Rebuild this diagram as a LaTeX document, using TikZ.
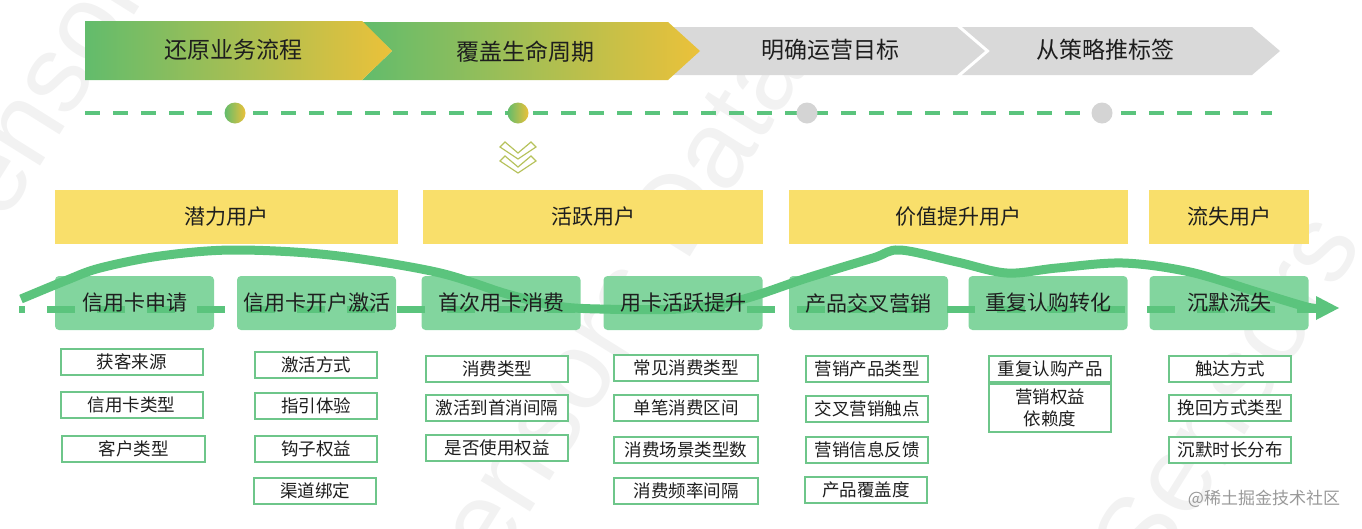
\documentclass[tikz,border=0pt]{standalone}
\usepackage{fontspec}
\setmainfont{Noto Sans CJK SC}
\newfontfamily\wmfont{Liberation Sans}
\usetikzlibrary{calc}

\definecolor{stagegreen}{HTML}{82D59E}
\definecolor{linegreen}{HTML}{5BC47D}
\definecolor{boxyellow}{HTML}{F9DF6B}
\definecolor{arrowgray}{HTML}{D9D9D9}
\definecolor{dotgray}{HTML}{D4D4D4}
\definecolor{gradgreen}{HTML}{62BC6C}
\definecolor{gradyellow}{HTML}{EBC13A}
\definecolor{itemline}{HTML}{6EC68A}
\definecolor{chevcolor}{HTML}{B6C25C}
\definecolor{textdark}{HTML}{1E1E1E}

\tikzset{
  watermark/.style={font=\wmfont\fontsize{110}{110}\selectfont, text=black!5, rotate=58, inner sep=0pt},
  steptext/.style={font=\fontsize{23}{27}\selectfont, text=textdark, inner sep=0pt},
  timeline/.style={draw=linegreen, line width=4pt, dash pattern=on 15pt off 13pt},
  golddot/.style={circle, minimum size=21pt, inner sep=0pt, left color=gradgreen, right color=gradyellow},
  graydot/.style={circle, minimum size=21pt, inner sep=0pt, fill=dotgray},
  chevron/.style={draw=chevcolor, line width=1.2pt, line join=miter},
  usertype/.style={fill=boxyellow, minimum height=54pt, inner sep=0pt, font=\fontsize{21}{25}\selectfont, text=textdark},
  stagebox/.style={fill=stagegreen, rounded corners=4pt, minimum width=159pt, minimum height=54pt, inner sep=0pt},
  stagetext/.style={font=\fontsize{21}{25}\selectfont, text=textdark, inner sep=0pt},
  stageline/.style={draw=linegreen, line width=7pt, dash pattern=on 28pt off 22pt, dash phase=22pt},
  wave/.style={draw=linegreen, line width=9pt},
  itembox/.style={draw=itemline, line width=2pt, fill=white, minimum width=122pt, minimum height=26pt, inner sep=0pt, font=\fontsize{17.5}{22}\selectfont, text=textdark, align=center},
}

\begin{document}
\begin{tikzpicture}[x=1pt, y=-1pt]
  \useasboundingbox (0,0) rectangle (1362,528);

  %%% watermark
  \node[watermark] (wm1) at (40,95) {Sensors};
  \node[watermark] (wm2) at (600,330) {Sensors Data};
  \node[watermark] (wm3) at (1225,395) {Sensors};

  %%% steps on top
  \fill[arrowgray] (962,27) -- (1252,27) -- (1280,51) -- (1252,75) -- (962,75) -- (990,51) -- cycle;
  \fill[arrowgray] (668,27) -- (957,27) -- (985,51) -- (957,75) -- (668,75) -- cycle;
  \shade[left color=gradgreen, right color=gradyellow] (362,22) -- (668,22) -- (700,51) -- (668,80) -- (362,80) -- (392,51) -- cycle;
  \shade[left color=gradgreen, right color=gradyellow] (85,21) -- (362,21) -- (392,51) -- (362,80) -- (85,80) -- cycle;

  \node[steptext] (st1) at (233,50) {还原业务流程};
  \node[steptext] (st2) at (525,52) {覆盖生命周期};
  \node[steptext] (st3) at (830,50) {明确运营目标};
  \node[steptext] (st4) at (1105,50) {从策略推标签};

  %%% timeline
  \coordinate (tl-a) at (85,113);
  \coordinate (tl-b) at (1272,113);
  \draw[timeline] (tl-a) -- (tl-b);
  \node[golddot] (d1) at (235,113) {};
  \node[golddot] (d2) at (518,113) {};
  \node[graydot] (d3) at (807,113) {};
  \node[graydot] (d4) at (1102,113) {};

  %%% double chevron
  \foreach \yt in {142,156}
    \draw[chevron] (500,\yt+5) -- (505,\yt) -- (518,\yt+11) -- (531,\yt) -- (536,\yt+5) -- (518,\yt+17) -- cycle;

  %%% user types
  \node[usertype, minimum width=343pt] (u1) at (226.5,217) {潜力用户};
  \node[usertype, minimum width=340pt] (u2) at (593,217) {活跃用户};
  \node[usertype, minimum width=339pt] (u3) at (958.5,217) {价值提升用户};
  \node[usertype, minimum width=160pt] (u4) at (1229,217) {流失用户};

  %%% stages
  \node[stagebox] (s1) at (134.5,303) {};
  \node[stagebox] (s2) at (316.5,303) {};
  \node[stagebox] (s3) at (501,303) {};
  \node[stagebox] (s4) at (683,303) {};
  \node[stagebox] (s5) at (868.5,303) {};
  \node[stagebox] (s6) at (1048,303) {};
  \node[stagebox] (s7) at (1229,303) {};

  \coordinate (sl-a) at (19,309);
  \coordinate (sl-b) at (1325,309);
  \draw[stageline] (sl-a) -- (sl-b);

  \draw[wave] plot[smooth, tension=0.55] coordinates {(21,299) (67,280) (100,268) (160,256) (233,250) (330,255) (436,272) (507,294) (557,306) (600,309) (680,309) (740,300) (807,278) (873,258) (900,250) (957,262) (1007,273) (1057,268) (1123,263) (1190,272) (1257,292) (1307,307) (1320,308)};
  \coordinate (tip) at (1339,308);
  \fill[linegreen] (1316,296) -- (tip) -- (1316,320) -- cycle;

  \node[stagetext] (s1t) at (s1.center) {信用卡申请};
  \node[stagetext] (s2t) at (s2.center) {信用卡开户激活};
  \node[stagetext] (s3t) at (s3.center) {首次用卡消费};
  \node[stagetext] (s4t) at (s4.center) {用卡活跃提升};
  \node[stagetext] (s5t) at (s5.center) {产品交叉营销};
  \node[stagetext] (s6t) at (s6.center) {重复认购转化};
  \node[stagetext] (s7t) at (s7.center) {沉默流失};

  %%% details
  \node[itembox, minimum width=142pt] (a1) at (131.5,362) {获客来源};
  \node[itembox, minimum width=142pt] (a2) at (131.5,405) {信用卡类型};
  \node[itembox, minimum width=143pt] (a3) at (133.5,449) {客户类型};

  \node[itembox] (b1) at (316,365) {激活方式};
  \node[itembox] (b2) at (316,406) {指引体验};
  \node[itembox] (b3) at (316,449) {钩子权益};
  \node[itembox] (b4) at (315,491) {渠道绑定};

  \node[itembox, minimum width=142pt] (c1) at (497,368.5) {消费类型};
  \node[itembox, minimum width=142pt] (c2) at (497,408) {激活到首消间隔};
  \node[itembox, minimum width=142pt] (c3) at (497,447.5) {是否使用权益};

  \node[itembox, minimum width=144pt] (e1) at (686,367.5) {常见消费类型};
  \node[itembox, minimum width=144pt] (e2) at (686,407.5) {单笔消费区间};
  \node[itembox, minimum width=144pt] (e3) at (686,450) {消费场景类型数};
  \node[itembox, minimum width=144pt] (e4) at (686,491) {消费频率间隔};

  \node[itembox] (f1) at (867,369) {营销产品类型};
  \node[itembox] (f2) at (867,409) {交叉营销触点};
  \node[itembox] (f3) at (867,450) {营销信息反馈};
  \node[itembox] (f4) at (866,490) {产品覆盖度};

  \node[itembox] (g1) at (1050,369) {重复认购产品};
  \node[itembox, minimum height=48pt] (g2) at (1050,408) {营销权益\\依赖度};

  \node[itembox] (h1) at (1230,368.5) {触达方式};
  \node[itembox] (h2) at (1230,407.5) {挽回方式类型};
  \node[itembox] (h3) at (1230,450) {沉默时长分布};

  \node[font=\fontsize{17}{20}\selectfont, text=black!40, inner sep=0pt] (credit) at (1264,499) {@稀土掘金技术社区};
\end{tikzpicture}
\end{document}
